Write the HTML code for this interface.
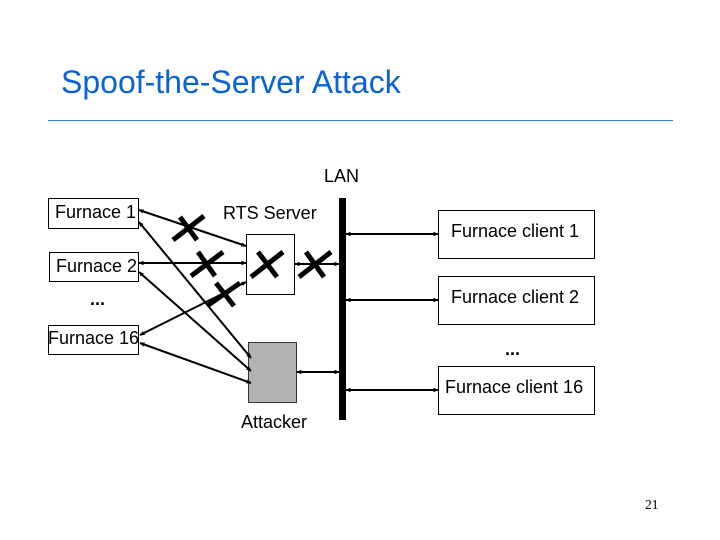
<!DOCTYPE html>
<html><head><meta charset="utf-8"><style>
html,body{margin:0;padding:0;background:#fff}
svg{display:block}
text{font-family:"Liberation Sans",sans-serif;font-size:18px;fill:#000}
</style></head><body>
<svg width="720" height="540" viewBox="0 0 720 540" xmlns="http://www.w3.org/2000/svg">
<defs><marker id="a" markerWidth="5" markerHeight="5" refX="4.5" refY="2.5" orient="auto-start-reverse" markerUnits="userSpaceOnUse"><path d="M0 0.3L5 2.5L0 4.7z" fill="#000"/></marker></defs>
<text x="61" y="93" style="font-size:32px;fill:#0b62d6">Spoof-the-Server Attack</text>
<rect x="48" y="120" width="625" height="1" fill="#2a86c8"/>
<g fill="#fff" stroke="#000" stroke-width="1">
<rect x="48.5" y="198.5" width="90" height="30"/>
<rect x="49.5" y="252.5" width="89" height="29"/>
<rect x="48.5" y="325.5" width="90" height="29"/>
<rect x="246.5" y="234.5" width="48" height="60"/>
<rect x="248.5" y="342.5" width="48" height="60" fill="#b2b2b2" stroke="#333"/>
<rect x="438.5" y="210.5" width="156" height="48"/>
<rect x="438.5" y="276.5" width="156" height="48"/>
<rect x="438.5" y="366.5" width="156" height="48"/>
</g>
<rect x="339" y="198" width="7" height="222" fill="#000"/>
<g stroke="#000" stroke-width="2" fill="none">
<line x1="139" y1="210" x2="246" y2="246" marker-start="url(#a)" marker-end="url(#a)"/>
<line x1="139" y1="263" x2="246" y2="263" marker-start="url(#a)" marker-end="url(#a)"/>
<line x1="140" y1="335" x2="246" y2="282" marker-start="url(#a)" marker-end="url(#a)"/>
<line x1="139" y1="222" x2="251" y2="358" marker-start="url(#a)" marker-end="url(#a)"/>
<line x1="139" y1="272" x2="251" y2="371" marker-start="url(#a)" marker-end="url(#a)"/>
<line x1="140" y1="343" x2="251" y2="383" marker-start="url(#a)" marker-end="url(#a)"/>
<line x1="295" y1="264" x2="339" y2="264" marker-start="url(#a)" marker-end="url(#a)"/>
<line x1="297" y1="372" x2="339" y2="372" marker-start="url(#a)" marker-end="url(#a)"/>
<line x1="346" y1="234" x2="438" y2="234" marker-start="url(#a)" marker-end="url(#a)"/>
<line x1="346" y1="300" x2="438" y2="300" marker-start="url(#a)" marker-end="url(#a)"/>
<line x1="346" y1="390" x2="438" y2="390" marker-start="url(#a)" marker-end="url(#a)"/>
</g>
<g stroke="#000" stroke-width="5" fill="none">
<path d="M173 240L204 216M180 217L197 240"/>
<path d="M191 276L223 252M198 252L215 276"/>
<path d="M251 277L283 252M258 252L277 277"/>
<path d="M299 277L331 252M306 252L324 277"/>
<path d="M207 306L240 283M216 283L234 306"/>
</g>
<text x="55" y="218">Furnace 1</text>
<text x="56" y="272">Furnace 2</text>
<text x="48" y="344">Furnace 16</text>
<text x="90" y="305" style="font-weight:bold">...</text>
<text x="223" y="219">RTS Server</text>
<text x="324" y="182">LAN</text>
<text x="451" y="237">Furnace client 1</text>
<text x="451" y="303">Furnace client 2</text>
<text x="445" y="393">Furnace client 16</text>
<text x="505" y="355" style="font-weight:bold">...</text>
<text x="241" y="428">Attacker</text>
<text x="645" y="509" style="font-family:'Liberation Serif',serif;font-size:13.5px">21</text>
</svg>
</body></html>
